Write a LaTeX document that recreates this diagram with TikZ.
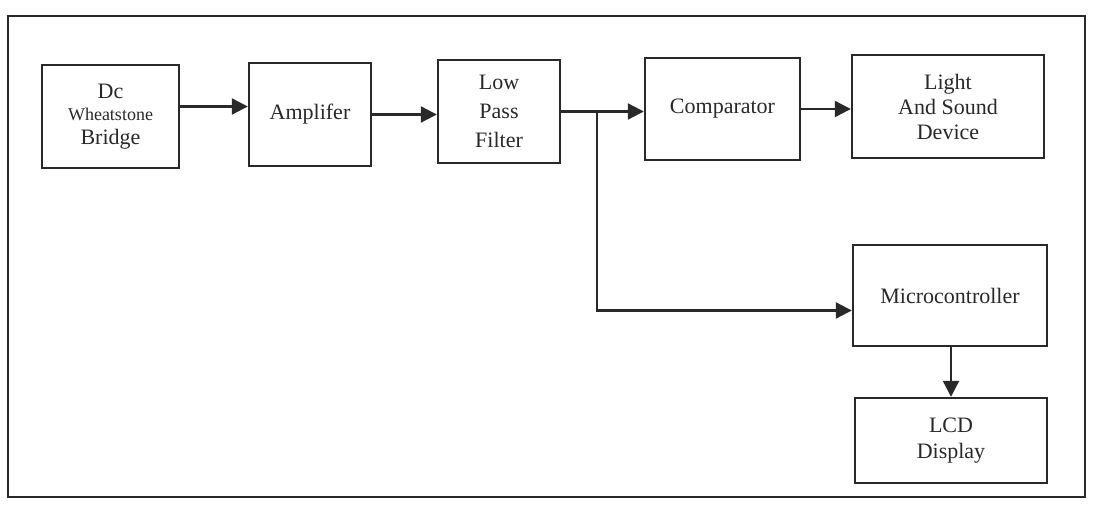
\documentclass[tikz,border=0pt]{standalone}
\usepackage{fontspec}
\setmainfont{Liberation Serif}
\usetikzlibrary{arrows.meta}
\definecolor{ink}{rgb}{0.16,0.16,0.16}
\begin{document}
\begin{tikzpicture}[x=1pt,y=-1pt,
  blk/.style={draw=ink, line width=2.4pt, rectangle, align=center, text=ink,
    font=\fontsize{22}{27}\selectfont, inner sep=0pt},
  arr/.style={draw=ink, line width=2.2pt, -{Triangle[length=16pt,width=16pt]}},
  wire/.style={draw=ink, line width=2.2pt}]
\useasboundingbox (0,0) rectangle (1093,508);
\fill[white] (0,0) rectangle (1093,508);
\draw[ink, line width=1.8pt] (8,16) rectangle (1085,497);
% blocks
\node[blk, minimum width=137pt, minimum height=103pt] (dc) at (110.5,116.5)
  {Dc\\[-5pt]{\fontsize{18}{20}\selectfont Wheatstone}\\[-3pt]Bridge};
\node[blk, minimum width=122pt, minimum height=103pt] (amp) at (310,114.5) {Amplifer};
\node[blk, minimum width=122pt, minimum height=103pt, font=\fontsize{22}{29}\selectfont] (lpf) at (499,111.5) {Low\\Pass\\Filter};
\node[blk, minimum width=155pt, minimum height=102pt] (comp) at (722.5,109) {Comparator};
\node[blk, minimum width=192pt, minimum height=103pt, font=\fontsize{22}{25}\selectfont] (las) at (948,106.5) {Light\\And Sound\\Device};
\node[blk, minimum width=194pt, minimum height=101pt] (mcu) at (950,295.5) {Microcontroller};
\node[blk, minimum width=192pt, minimum height=85pt, font=\fontsize{22}{26}\selectfont] (lcd) at (951,440.5) {LCD\\Display};
% connectors
\coordinate (a1) at ([yshift=10pt]dc.east);
\draw[arr] (a1) -- (a1 -| amp.west);
\draw[arr] (amp.east) -- (amp.east -| lpf.west);
\draw[arr] (lpf.east) -- (lpf.east -| comp.west);
\draw[arr] (comp.east) -- (comp.east -| las.west);
\coordinate (br) at (597,111.5);
\coordinate (m1) at ([yshift=-15pt]mcu.west);
\draw[arr] (br) |- (m1);
\draw[arr] (mcu.south -| lcd.north) -- (lcd.north);
\end{tikzpicture}
\end{document}
